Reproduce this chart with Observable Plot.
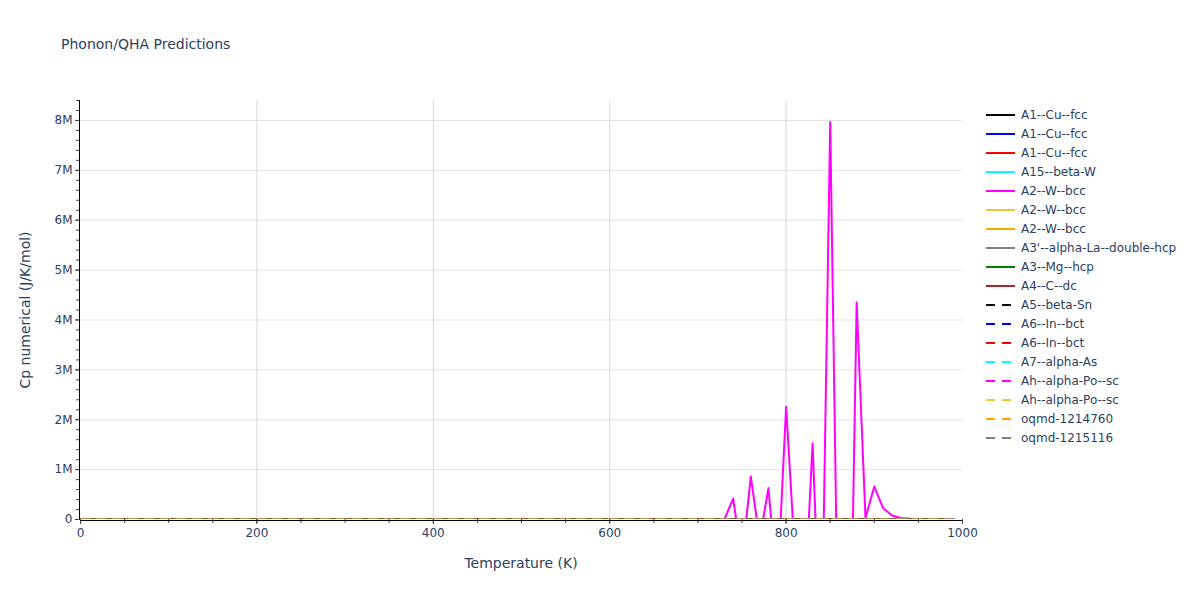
<!DOCTYPE html>
<html>
<head>
<meta charset="utf-8">
<script src="https://cdn.jsdelivr.net/npm/d3@7"></script>
<script src="https://cdn.jsdelivr.net/npm/@observablehq/plot@0.6"></script>
<style>
  html, body { margin: 0; padding: 0; background: #fff; }
  #wrap { position: relative; width: 1200px; height: 600px; font-family: "DejaVu Sans", Verdana, sans-serif; color: #2a3f5f; }
  .abs { position: absolute; white-space: nowrap; }
</style>
</head>
<body>
<div id="wrap"></div>
<script>
// ---- Data ----
const seriesNames = [
  "A1--Cu--fcc", "A1--Cu--fcc", "A1--Cu--fcc", "A15--beta-W", "A2--W--bcc", "A2--W--bcc", "A2--W--bcc",
  "A3'--alpha-La--double-hcp", "A3--Mg--hcp", "A4--C--dc", "A5--beta-Sn", "A6--In--bct", "A6--In--bct",
  "A7--alpha-As", "Ah--alpha-Po--sc", "Ah--alpha-Po--sc", "oqmd-1214760", "oqmd-1215116"
];
const seriesColors = [
  "#000000", "#0000ff", "#ff0000", "#00ffff", "#ff00ff", "#f0c43c", "#ffa500", "#808080", "#008000", "#a52a2a",
  "#000000", "#0000ff", "#ff0000", "#00ffff", "#ff00ff", "#f0c43c", "#ffa500", "#808080"
];
const seriesDashed = [
  false, false, false, false, false, false, false, false, false, false,
  true, true, true, true, true, true, true, true
];

// Flat series (values ~0 on this scale)
const flatTemps = [0, 990];
const flatValues = [0, 0];

// A2--W--bcc (magenta) numerical Cp, J/K/mol
const spikeTemps = [0, 720, 730, 740, 750, 760, 770, 780, 790, 800, 810, 820, 830, 840, 850, 860, 870, 880, 890, 900, 910, 920, 930, 940, 950, 960, 970, 980, 990];
const spikeValues = [0, 0, 0, 0.42e6, -0.8e6, 0.86e6, -0.4e6, 0.63e6, -1.4e6, 2.26e6, -0.7e6, -2.1e6, 1.53e6, -3.0e6, 7.97e6, -3.75e6, -6.0e6, 4.35e6, 0.03e6, 0.66e6, 0.23e6, 0.08e6, 0.03e6, 0.015e6, 0.01e6, 0.008e6, 0.006e6, 0.005e6, 0.004e6];
const spikeIndex = 4;

const xMajorTicks = [0, 200, 400, 600, 800, 1000];
const xMinorTicks = d3.range(0, 1001, 50);
const yMajorTicks = [0, 1e6, 2e6, 3e6, 4e6, 5e6, 6e6, 7e6, 8e6];
const yMinorTicks = d3.range(0, 8.4e6 + 1, 2e5);

// ---- Build table ----
const rows = [];
seriesNames.forEach((name, i) => {
  const T = i === spikeIndex ? spikeTemps : flatTemps;
  const V = i === spikeIndex ? spikeValues : flatValues;
  T.forEach((t, j) => rows.push({ s: i, T: t, v: V[j] }));
});

const textColor = "#2a3f5f";
const fmtY = d => d === 0 ? "0" : (d / 1e6) + "M";

const lineMarks = seriesNames.map((name, i) =>
  Plot.line(rows.filter(r => r.s === i), {
    x: "T", y: "v", stroke: seriesColors[i], strokeWidth: 2,
    strokeDasharray: seriesDashed[i] ? "9,7" : null, clip: true, curve: "linear"
  })
);

const chart = Plot.plot({
  width: 1200, height: 600,
  marginLeft: 80, marginRight: 238, marginTop: 100, marginBottom: 81,
  style: { fontFamily: "DejaVu Sans, Verdana, sans-serif", fontSize: "12px", color: textColor, background: "#fff" },
  x: { domain: [0, 1000] },
  y: { domain: [0, 8.4e6] },
  marks: [
    Plot.gridY(yMajorTicks.slice(1), { stroke: "#e2e2e2", strokeOpacity: 1, strokeWidth: 1 }),
    Plot.gridX(xMajorTicks.slice(1, 5), { stroke: "#d8d8d8", strokeOpacity: 1, strokeWidth: 1 }),
    Plot.axisX({ ticks: xMinorTicks, tickSize: 4, tickFormat: () => "", stroke: "#444", label: null }),
    Plot.axisX({ ticks: xMajorTicks, tickSize: 5, tickPadding: 4, tickFormat: d => String(d), stroke: "#444", fill: textColor, label: null }),
    Plot.axisY({ ticks: yMinorTicks, tickSize: 4, tickFormat: () => "", stroke: "#444", label: null }),
    Plot.axisY({ ticks: yMajorTicks, tickSize: 5, tickPadding: 3, tickFormat: fmtY, stroke: "#444", fill: textColor, label: null }),
    Plot.ruleY([0], { stroke: "#000", strokeWidth: 1, dy: 1 }),
    Plot.ruleX([0], { stroke: "#000", strokeWidth: 1, dx: -1, y1: 0, y2: 8.4e6 }),
    ...lineMarks
  ]
});

const wrap = document.getElementById("wrap");
chart.style.position = "absolute";
chart.style.left = "0px";
chart.style.top = "0px";
wrap.appendChild(chart);

function addText(txt, left, top, size, extra) {
  const d = document.createElement("div");
  d.className = "abs";
  d.textContent = txt;
  d.style.left = left + "px";
  d.style.top = top + "px";
  d.style.fontSize = size + "px";
  d.style.color = textColor;
  if (extra) Object.assign(d.style, extra);
  wrap.appendChild(d);
  return d;
}

addText("Phonon/QHA Predictions", 61, 36, 14);
addText("Temperature (K)", 521, 555, 14, { transform: "translateX(-50%)" });
addText("Cp numerical (J/K/mol)", 25, 310, 14, { transform: "translate(-50%, -50%) rotate(-90deg)", lineHeight: "16px" });

// Legend
const leg = d3.select(wrap).append("svg")
  .attr("width", 220).attr("height", 360)
  .style("position", "absolute").style("left", "980px").style("top", "100px");
seriesNames.forEach((name, i) => {
  const cy = 15 + i * 19;
  leg.append("line").attr("x1", 6).attr("x2", 35).attr("y1", cy).attr("y2", cy)
    .attr("stroke", seriesColors[i]).attr("stroke-width", 2)
    .attr("stroke-dasharray", seriesDashed[i] ? "9,7" : null);
  leg.append("text").attr("x", 41).attr("y", cy).attr("dy", "0.35em")
    .attr("font-family", "DejaVu Sans, Verdana, sans-serif").attr("font-size", 12)
    .attr("fill", textColor).text(name);
});
</script>
</body>
</html>
